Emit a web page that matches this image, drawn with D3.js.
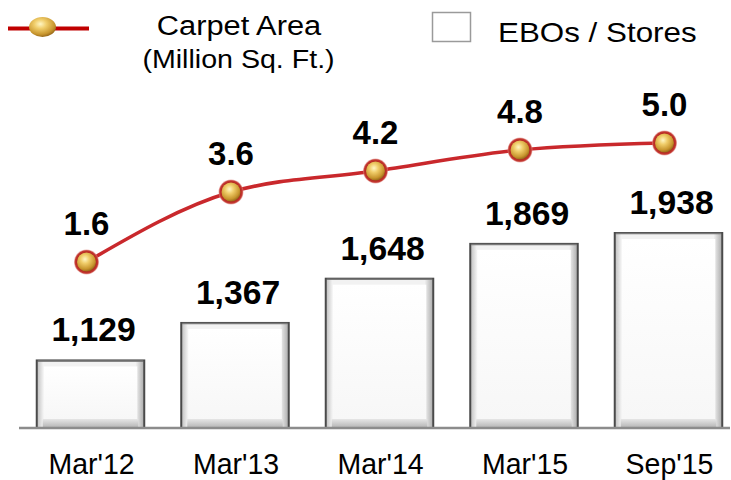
<!DOCTYPE html>
<html>
<head>
<meta charset="utf-8">
<script src="https://cdn.jsdelivr.net/npm/d3@7"></script>
<style>
  html, body { margin: 0; padding: 0; background: #fff; }
  svg { display: block; font-family: "Liberation Sans", Arial, sans-serif; }
</style>
</head>
<body>
<svg id="chart" width="731" height="480"></svg>
<script>
// Periods on the x axis
const categories = ["Mar'12", "Mar'13", "Mar'14", "Mar'15", "Sep'15"];
// Number of exclusive brand outlets / stores (bars)
const stores = [1129, 1367, 1648, 1869, 1938];
// Carpet area in million sq. ft. (line)
const carpetArea = [1.6, 3.6, 4.2, 4.8, 5.0];

const svg = d3.select("#chart");
const baseY = 428;

const x = d3.scaleBand()
  .domain(categories)
  .range([18.25, 740.75])
  .paddingInner(0.256)
  .paddingOuter(0.128);

const yBar = d3.scaleLinear().domain([700, 2000]).range([baseY, 223.25]);
const yLine = d3.scaleLinear().domain([0, 6]).range([318, 108]);

const defs = svg.append("defs");

// bevel shading for the bars
const gH = defs.append("linearGradient").attr("id", "bevelH").attr("x1", 0).attr("x2", 1).attr("y1", 0).attr("y2", 0);
gH.append("stop").attr("offset", "0%").attr("stop-color", "#bdbdbd");
gH.append("stop").attr("offset", "6%").attr("stop-color", "#f2f2f2");
gH.append("stop").attr("offset", "92%").attr("stop-color", "#f2f2f2");
gH.append("stop").attr("offset", "100%").attr("stop-color", "#a9a9a9");

const gFace = defs.append("linearGradient").attr("id", "face").attr("x1", 0).attr("x2", 0).attr("y1", 0).attr("y2", 1);
gFace.append("stop").attr("offset", "0%").attr("stop-color", "#ffffff");
gFace.append("stop").attr("offset", "100%").attr("stop-color", "#f7f7f7");

const gBottom = defs.append("linearGradient").attr("id", "bevelB").attr("x1", 0).attr("x2", 0).attr("y1", 0).attr("y2", 1);
gBottom.append("stop").attr("offset", "0%").attr("stop-color", "#e6e6e6");
gBottom.append("stop").attr("offset", "100%").attr("stop-color", "#b3b3b3");

// gold ball for the line markers
const gBall = defs.append("radialGradient").attr("id", "ball").attr("cx", "42%").attr("cy", "35%").attr("r", "65%");
gBall.append("stop").attr("offset", "0%").attr("stop-color", "#fff6c4");
gBall.append("stop").attr("offset", "35%").attr("stop-color", "#f0cd6a");
gBall.append("stop").attr("offset", "80%").attr("stop-color", "#c8962e");
gBall.append("stop").attr("offset", "100%").attr("stop-color", "#9a6a1a");

const gRim = defs.append("radialGradient").attr("id", "rim");
gRim.append("stop").attr("offset", "75%").attr("stop-color", "#b5241f");
gRim.append("stop").attr("offset", "90%").attr("stop-color", "#c43a33");
gRim.append("stop").attr("offset", "100%").attr("stop-color", "#e08a85").attr("stop-opacity", 0.6);

// helper: text with horizontal scaling
function label(parent, tx, ty, str, size, weight, sx, anchor) {
  parent.append("g")
    .attr("transform", `translate(${tx},${ty}) scale(${sx},1)`)
    .append("text")
    .attr("text-anchor", anchor || "middle")
    .attr("font-size", size)
    .attr("font-weight", weight)
    .attr("fill", "#000")
    .text(str);
}

// bars
const bars = svg.append("g");
categories.forEach((c, i) => {
  const x0 = x(c), w = x.bandwidth();
  const y0 = yBar(stores[i]), h = baseY - y0;
  const g = bars.append("g");
  g.append("rect").attr("x", x0).attr("y", y0).attr("width", w).attr("height", h)
    .attr("fill", "url(#bevelH)");
  g.append("rect").attr("x", x0 + 6).attr("y", baseY - 9).attr("width", w - 12).attr("height", 9)
    .attr("fill", "url(#bevelB)");
  g.append("rect").attr("x", x0 + 7).attr("y", y0 + 6).attr("width", w - 14).attr("height", Math.max(0, h - 15))
    .attr("fill", "url(#face)");
  g.append("rect").attr("x", x0).attr("y", y0).attr("width", w).attr("height", h)
    .attr("fill", "none").attr("stroke", "#4a4a4a").attr("stroke-width", 2);
  g.append("line").attr("x1", x0 + 1).attr("x2", x0 + w - 1).attr("y1", y0 + 0.5).attr("y2", y0 + 0.5)
    .attr("stroke", "#7a7a7a").attr("stroke-width", 1.5);
});

// x axis baseline
svg.append("line").attr("x1", 19).attr("x2", 730).attr("y1", baseY).attr("y2", baseY)
  .attr("stroke", "#8c8c8c").attr("stroke-width", 2.5);

// bar value labels
categories.forEach((c, i) => {
  label(svg, x(c) + x.bandwidth() / 2 + 3, yBar(stores[i]) - 19, d3.format(",")(stores[i]), 33, "bold", 1.02);
});

// axis labels
categories.forEach((c) => {
  label(svg, x(c) + x.bandwidth() / 2 + 1, 474, c, 30, "normal", 0.95);
});

// carpet area line
const lx = (c) => x(c) + x.bandwidth() / 2 - 4;
const lineGen = d3.line()
  .x((d, i) => lx(categories[i]))
  .y((d) => yLine(d))
  .curve(d3.curveMonotoneX);

svg.append("path").datum(carpetArea).attr("d", lineGen)
  .attr("fill", "none").attr("stroke", "#c9282c").attr("stroke-width", 3.6);

const markers = svg.append("g");
carpetArea.forEach((v, i) => {
  const cx = lx(categories[i]), cy = yLine(v);
  markers.append("circle").attr("cx", cx).attr("cy", cy).attr("r", 12.5).attr("fill", "url(#rim)");
  markers.append("circle").attr("cx", cx).attr("cy", cy).attr("r", 9.5).attr("fill", "url(#ball)");
  label(svg, cx, cy - 27, d3.format(".1f")(v), 33, "bold", 1.0);
});

// legend: line series
svg.append("line").attr("x1", 8).attr("x2", 89).attr("y1", 28.5).attr("y2", 28.5)
  .attr("stroke", "#c00000").attr("stroke-width", 4);
svg.append("ellipse").attr("cx", 42.5).attr("cy", 27).attr("rx", 13.5).attr("ry", 10)
  .attr("fill", "url(#ball)");
label(svg, 239, 35, "Carpet Area", 28, "normal", 1.1);
label(svg, 238.5, 68, "(Million Sq. Ft.)", 26, "normal", 1.1);

// legend: bar series
svg.append("rect").attr("x", 432.5).attr("y", 12.5).attr("width", 38).attr("height", 29)
  .attr("fill", "#fff").attr("stroke", "#9a9a9a").attr("stroke-width", 1.5);
label(svg, 498, 42, "EBOs / Stores", 28, "normal", 1.12, "start");
</script>
</body>
</html>
